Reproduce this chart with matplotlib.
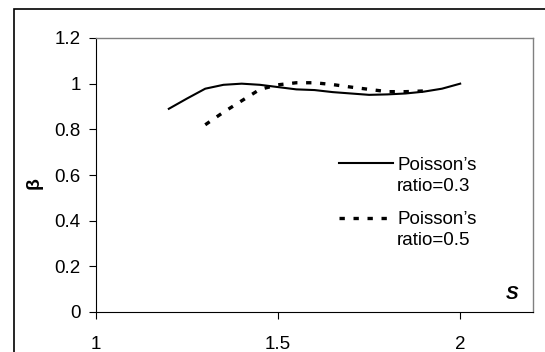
import matplotlib.pyplot as plt
from matplotlib.patches import Rectangle
from matplotlib.legend_handler import HandlerLine2D

plt.rcParams['font.family'] = ['Liberation Sans', 'DejaVu Sans']

# Poisson's ratio = 0.3 (solid)
s_03 = [1.2, 1.25, 1.3, 1.35, 1.4, 1.45, 1.5, 1.55, 1.6, 1.65, 1.7, 1.75, 1.8, 1.85, 1.9, 1.95, 2.0]
beta_03 = [0.89, 0.935, 0.978, 0.995, 1.0, 0.995, 0.985, 0.975, 0.972, 0.963, 0.957, 0.951, 0.953, 0.957, 0.965, 0.978, 1.0]

# Poisson's ratio = 0.5 (dashed)
s_05 = [1.3, 1.35, 1.4, 1.45, 1.5, 1.55, 1.6, 1.65, 1.7, 1.75, 1.8, 1.85, 1.9]
beta_05 = [0.82, 0.875, 0.925, 0.975, 0.995, 1.004, 1.004, 0.996, 0.985, 0.975, 0.965, 0.965, 0.968]


class TopLineHandler(HandlerLine2D):
    # put the legend key level with the first text line
    def create_artists(self, legend, orig_handle, xdescent, ydescent, width, height, fontsize, trans):
        artists = super().create_artists(legend, orig_handle, xdescent, ydescent,
                                         width, height, fontsize, trans)
        for a in artists:
            a.set_ydata([y + 0.65 * fontsize for y in a.get_ydata()])
        return artists


fig = plt.figure(figsize=(5.45, 3.52), dpi=100)
ax = fig.add_axes([96/545, 1 - 312/352, (533 - 96)/545, (312 - 38)/352])

ax.plot(s_03, beta_03, color='black', lw=1.5, label="Poisson\u2019s\nratio=0.3")
ax.plot(s_05, beta_05, color='black', lw=2.4, linestyle=(0, (1.6, 2.6)),
        label="Poisson\u2019s\nratio=0.5")

ax.set_xlim(1, 2.2)
ax.set_ylim(0, 1.2)
ax.set_xticks([1, 1.5, 2])
ax.set_xticklabels(['1', '1.5', '2'])
ax.set_yticks([0, 0.2, 0.4, 0.6, 0.8, 1, 1.2])
ax.set_yticklabels(['0', '0.2', '0.4', '0.6', '0.8', '1', '1.2'])
ax.tick_params(axis='both', direction='out', length=5, width=0.8, labelsize=13.5, colors='black')
ax.tick_params(axis='y', pad=6)
ax.tick_params(axis='x', pad=12)

for side in ['top', 'right']:
    ax.spines[side].set_color('#808080')
    ax.spines[side].set_linewidth(1.0)
for side in ['left', 'bottom']:
    ax.spines[side].set_color('black')
    ax.spines[side].set_linewidth(0.8)

ax.set_ylabel('\u03b2', fontsize=14, fontweight='bold')
ax.yaxis.set_label_coords(-0.122, 0.47)
ax.text(0.952, 0.063, 'S', transform=ax.transAxes, fontsize=13.5, fontweight='bold',
        fontstyle='italic', ha='center', va='center')

leg = ax.legend(loc='upper left', bbox_to_anchor=(0.556, 0.567), frameon=False,
                fontsize=13.5, handlelength=2.9, handletextpad=0.2, labelspacing=0.9,
                borderpad=0, borderaxespad=0,
                handler_map={plt.Line2D: TopLineHandler()})
for t in leg.get_texts():
    t.set_linespacing(1.3)

# outer chart border (runs off the right and bottom edges)
fig.patches.append(Rectangle((14/545, -0.1), 1.0, 1.1 - 9/352,
                             transform=fig.transFigure, fill=False, edgecolor='black', lw=1.2))

fig.savefig('out.png', dpi=100)
